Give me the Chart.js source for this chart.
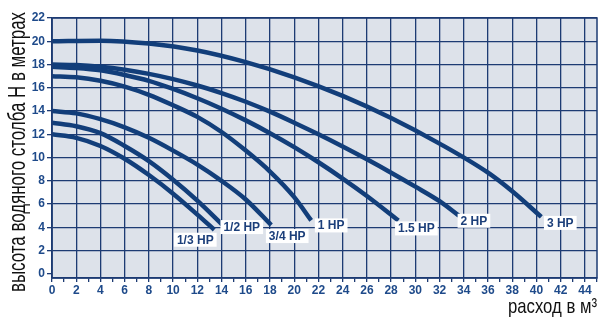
<!DOCTYPE html>
<html>
<head>
<meta charset="utf-8">
<script src="https://cdn.jsdelivr.net/npm/chart.js@4.4.1/dist/chart.umd.min.js"></script>
<style>
body{margin:0;background:#fff;}
canvas{display:block;}
</style>
</head>
<body>
<canvas id="chart1" width="609" height="327"></canvas>
<script>
// curvas de bombas: caudal (m3) vs altura (m)
var potencias = ['1/3 HP', '1/2 HP', '3/4 HP', '1 HP', '1.5 HP', '2 HP', '3 HP'];

var caudal13 = [0, 2, 4, 6, 8, 10, 12, 13.4];
var altura13 = [12, 11.7, 11.0, 9.9, 8.5, 6.9, 5.1, 3.8];

var caudal12 = [0, 2, 4, 6, 8, 10, 12, 14.1];
var altura12 = [13, 12.7, 12.1, 11.0, 9.7, 8.1, 6.3, 4.2];

var caudal34 = [0, 2, 4, 6, 8, 10, 12, 14, 16, 18.1];
var altura34 = [14, 13.8, 13.3, 12.6, 11.7, 10.6, 9.4, 8.0, 6.4, 4.2];

var caudal1 = [0, 2, 4, 6, 8, 10, 12, 14, 16, 18, 20, 21.4];
var altura1 = [17, 16.9, 16.6, 16.1, 15.4, 14.5, 13.5, 12.2, 10.6, 8.8, 6.6, 4.6];

var caudal15 = [0, 2, 4, 6, 8, 10, 12, 14, 16, 18, 20, 22, 24, 26, 28.6];
var altura15 = [17.8, 17.7, 17.5, 17.1, 16.6, 15.9, 15.1, 14.2, 13.2, 12.1, 10.9, 9.6, 8.2, 6.7, 4.6];

var caudal2 = [0, 2, 4, 6, 8, 10, 12, 14, 16, 18, 20, 22, 24, 26, 28, 30, 32, 33.6];
var altura2 = [18, 17.95, 17.8, 17.55, 17.2, 16.75, 16.2, 15.55, 14.8, 13.95, 13.0, 12.0, 10.95, 9.85, 8.7, 7.5, 6.25, 5.0];

var caudal3 = [0, 4, 8, 12, 16, 20, 24, 28, 32, 36, 38, 40.4];
var altura3 = [20, 20.05, 19.8, 19.2, 18.2, 16.9, 15.3, 13.4, 11.2, 8.7, 7.1, 4.9];

var ticksX = [0, 2, 4, 6, 8, 10, 12, 14, 16, 18, 20, 22, 24, 26, 28, 30, 32, 34, 36, 38, 40, 42, 44];
var ticksY = [0, 2, 4, 6, 8, 10, 12, 14, 16, 18, 20, 22];

var tituloY = 'высота водяного столба H в метрах';
var tituloX = 'расход в м³';

var azul = '#123e7a';
var rejilla = '#1d3b73';
var fuente = "'Liberation Sans', Arial, sans-serif";

function puntos(xs, ys){
	var p = [];
	for (var i = 0; i < xs.length; i++) {
		p.push({x: xs[i], y: ys[i]});
	}
	return p;
}

var series = [
	[caudal13, altura13],
	[caudal12, altura12],
	[caudal34, altura34],
	[caudal1, altura1],
	[caudal15, altura15],
	[caudal2, altura2],
	[caudal3, altura3]
];

var datasets = [];
for (var i = 0; i < series.length; i++) {
	datasets.push({
		label: potencias[i],
		data: puntos(series[i][0], series[i][1]),
		borderColor: azul,
		borderWidth: 4.5,
		pointRadius: 0,
		fill: false,
		cubicInterpolationMode: 'monotone'
	});
}

// fondo del area, marco y titulos de ejes (letra estrecha)
var fondo = {
	id: 'fondo',
	beforeDraw: function(chart){
		var a = chart.chartArea, c = chart.ctx;
		c.save();
		c.fillStyle = '#dde2ea';
		c.fillRect(a.left, a.top, a.right - a.left, a.bottom - a.top);
		c.restore();
	},
	afterDraw: function(chart, args, opts){
		var a = chart.chartArea, c = chart.ctx;
		c.save();
		c.strokeStyle = rejilla;
		c.lineWidth = 1.5;
		c.strokeRect(a.left, a.top, a.right - a.left, a.bottom - a.top);

		c.fillStyle = '#111111';
		c.font = '23px ' + fuente;
		c.textBaseline = 'alphabetic';
		c.textAlign = 'center';
		var w = c.measureText(opts.tituloY).width;
		c.save();
		c.translate(25, 152);
		c.rotate(-Math.PI / 2);
		c.scale(280 / w, 1);
		c.fillText(opts.tituloY, 0, 0);
		c.restore();

		c.font = '21px ' + fuente;
		c.textAlign = 'right';
		w = c.measureText(opts.tituloX).width;
		c.save();
		c.translate(a.right, 313);
		c.scale(89 / w, 1);
		c.fillText(opts.tituloX, 0, 0);
		c.restore();
		c.restore();
	}
};

// etiquetas HP al final de cada curva
var etiquetas = {
	id: 'etiquetas',
	afterDatasetsDraw: function(chart, args, opts){
		var c = chart.ctx;
		var sx = chart.scales.x, sy = chart.scales.y;
		c.save();
		c.font = 'bold 12px ' + fuente;
		c.textAlign = 'center';
		c.textBaseline = 'middle';
		chart.data.datasets.forEach(function(ds, k){
			var ult = ds.data[ds.data.length - 1];
			var px = sx.getPixelForValue(ult.x) + opts.desplaza[k][0];
			var py = sy.getPixelForValue(ult.y) + opts.desplaza[k][1];
			var w = c.measureText(ds.label).width + 6;
			c.fillStyle = '#ffffff';
			c.fillRect(px - w / 2, py - 7, w, 14);
			c.fillStyle = '#1c3f7a';
			c.fillText(ds.label, px, py + 0.5);
		});
		c.restore();
	}
};

var canvas = document.getElementById('chart1').getContext('2d');
window.curvas = new Chart(canvas, {
	type: 'line',
	data: { datasets: datasets },
	options: {
		responsive: false,
		animation: false,
		layout: { padding: { top: 18, right: 12, left: 0, bottom: 2 } },
		plugins: {
			legend: { display: false },
			tooltip: { enabled: false },
			fondo: { tituloY: tituloY, tituloX: tituloX },
			etiquetas: {
				desplaza: [[-19, 10], [19, 2], [16, 11], [20, 5], [18, 8], [15, 5], [19, 6]]
			}
		},
		scales: {
			x: {
				type: 'linear',
				min: 0,
				max: 45,
				afterFit: function(s){ s.height = 47; },
				ticks: {
					stepSize: 1,
					includeBounds: false,
					autoSkip: false,
					maxRotation: 0,
					padding: 1,
					color: '#1e4a8a',
					font: { family: fuente, size: 12, weight: 'bold' },
					callback: function(v){ return ticksX.indexOf(v) >= 0 ? v : ''; }
				},
				grid: {
					lineWidth: 1.3,
					tickLength: 4,
					color: function(ctx){
						return ctx.tick && ticksX.indexOf(ctx.tick.value) >= 0 ? rejilla : 'rgba(0,0,0,0)';
					},
					tickColor: rejilla
				},
				border: { color: rejilla, width: 1.5 }
			},
			y: {
				type: 'linear',
				min: -0.35,
				max: 22,
				afterFit: function(s){ s.width = 52; },
				ticks: {
					stepSize: 2,
					includeBounds: false,
					padding: 2,
					color: '#1e4a8a',
					font: { family: fuente, size: 12, weight: 'bold' },
					callback: function(v){ return ticksY.indexOf(v) >= 0 ? v : ''; }
				},
				grid: {
					lineWidth: 1.3,
					tickLength: 5,
					color: function(ctx){
						return ctx.tick && ctx.tick.value > 0 ? rejilla : 'rgba(0,0,0,0)';
					},
					tickColor: rejilla
				},
				border: { color: rejilla, width: 1.5 }
			}
		}
	},
	plugins: [fondo, etiquetas]
});
</script>
</body>
</html>
